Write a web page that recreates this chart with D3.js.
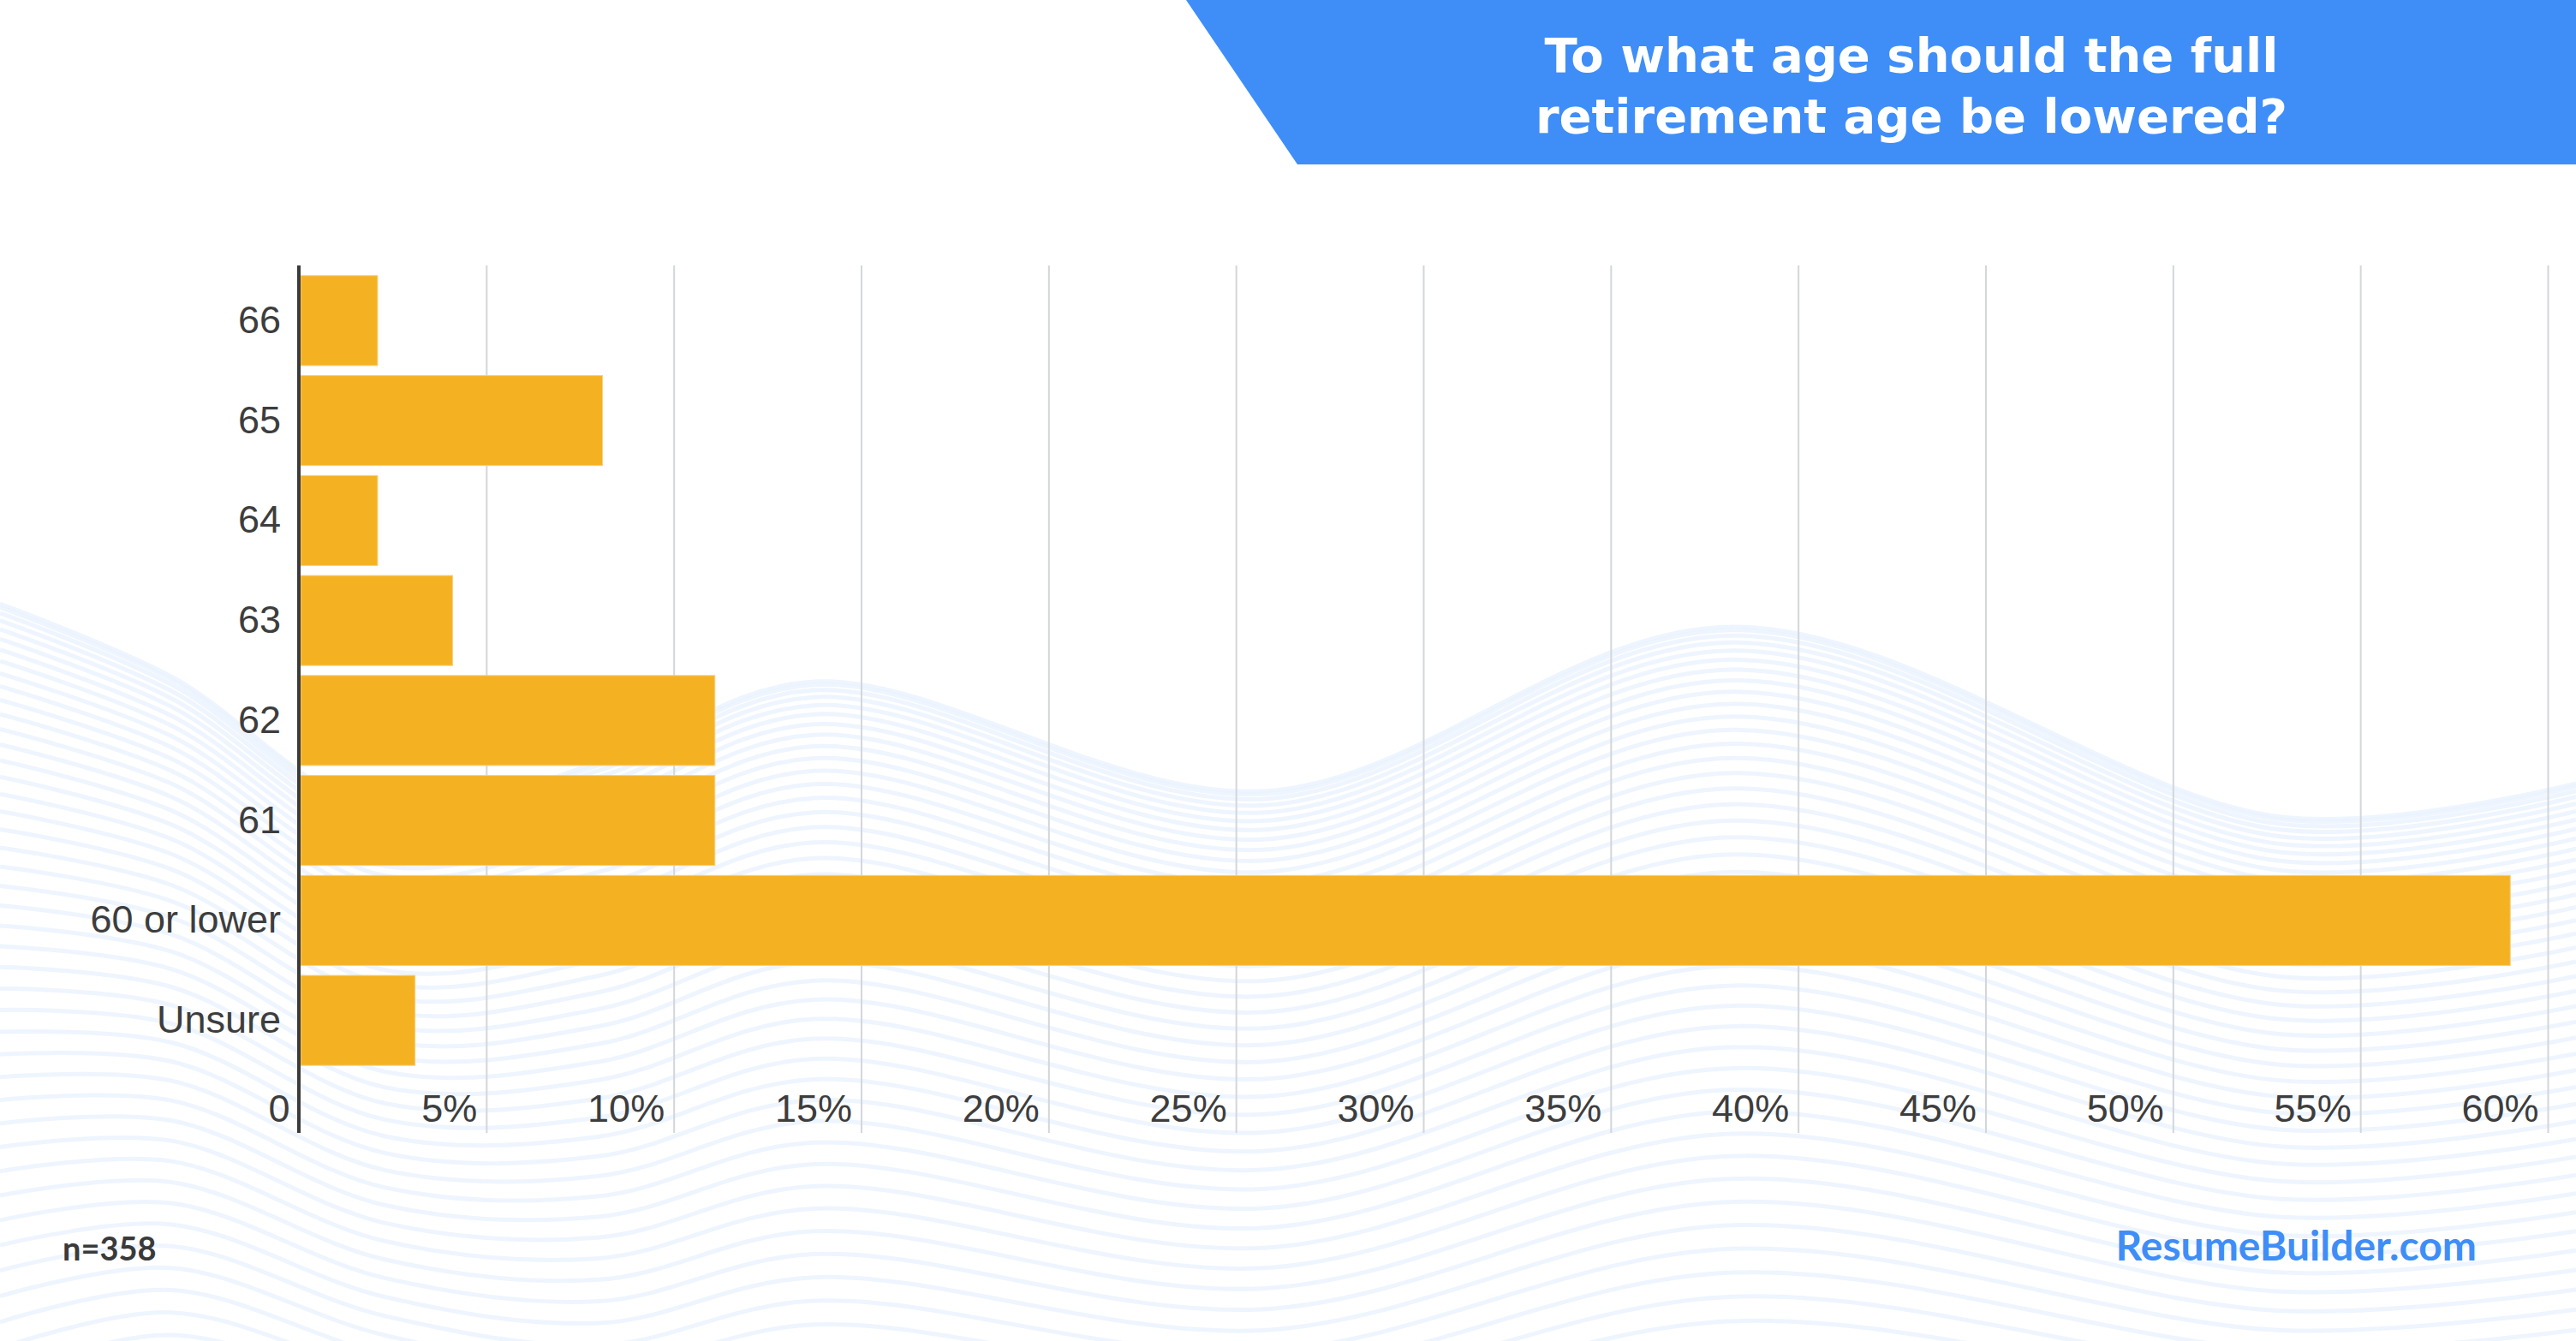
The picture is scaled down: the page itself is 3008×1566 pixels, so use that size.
<!DOCTYPE html>
<html>
<head>
<meta charset="utf-8">
<script src="https://cdn.jsdelivr.net/npm/d3@7"></script>
<style>
  body { margin: 0; background: #fff; }
  svg { display: block; }
</style>
</head>
<body>
<svg id="chart"></svg>
<script>
// values (percent of respondents)
var categories = ["66", "65", "64", "63", "62", "61", "60 or lower", "Unsure"];
var values = [2.1, 8.1, 2.1, 4.1, 11.1, 11.1, 59.0, 3.1];
var xTicks = [0, 5, 10, 15, 20, 25, 30, 35, 40, 45, 50, 55, 60];
var titleLines = ["To what age should the full", "retirement age be lowered?"];
var sampleNote = "n=358";
var brand = "ResumeBuilder.com";

// background ribbon (decoration only): top edge and bottom edge
var waveX = [0, 200, 450, 700, 950, 1474, 2024, 2664, 3008];
var waveTopY = [705, 790, 950, 890, 796, 924, 732, 954, 915];
var waveBotY = [1700, 1640, 1700, 1760, 1720, 1760, 1660, 1720, 1700];

var W = 3008, H = 1566;
var plot = {left: 349, right: 2975, top: 310, bottom: 1323};

var svg = d3.select("#chart")
    .attr("width", W)
    .attr("height", H);

svg.append("rect")
    .attr("width", W)
    .attr("height", H)
    .attr("fill", "#ffffff");

// wavy lines: packed near the top edge, spreading out lower down
var waveLine = d3.line().curve(d3.curveCatmullRom.alpha(0.5));
var nLines = 46;
var waves = svg.append("g").attr("class", "waves");
for (var i = 0; i < nLines; i++) {
  var t = Math.pow(i / (nLines - 1), 1.45);
  var pts = waveX.map(function(px, j) {
    return [px, waveTopY[j] + (waveBotY[j] - waveTopY[j]) * t];
  });
  waves.append("path")
      .attr("d", waveLine(pts))
      .attr("fill", "none")
      .attr("stroke", "#e8f1fd")
      .attr("stroke-opacity", 0.75)
      .attr("stroke-width", 5);
}

// title banner
svg.append("polygon")
    .attr("points", [[1385, 0], [W, 0], [W, 192], [1515, 192]].join(" "))
    .attr("fill", "#3f8ef7");

svg.append("g")
    .selectAll("text")
    .data(titleLines)
    .enter()
    .append("text")
      .attr("x", 2232)
      .attr("y", function(d, i) { return 84 + i * 71; })
      .attr("text-anchor", "middle")
      .attr("fill", "#ffffff")
      .style("font-family", "'DejaVu Sans', sans-serif")
      .style("font-weight", 700)
      .style("font-size", "56px")
      .text(function(d) { return d; });

var x = d3.scaleLinear()
    .domain([0, 60])
    .range([plot.left, plot.right]);

var y = d3.scaleBand()
    .domain(categories)
    .range([316, 1250])
    .paddingInner(0.1)
    .paddingOuter(0.05);

// grid + tick labels
var xAxis = svg.append("g")
    .attr("transform", "translate(0," + plot.bottom + ")")
    .call(d3.axisBottom(x)
        .tickValues(xTicks)
        .tickSize(-(plot.bottom - plot.top))
        .tickFormat(function(d) { return d === 0 ? "0" : d + "%"; }));

xAxis.select(".domain").remove();
xAxis.selectAll(".tick line")
    .attr("stroke", "#d3d6da")
    .attr("stroke-width", 2)
    .attr("opacity", function(d) { return d === 0 ? 0 : 1; });
xAxis.selectAll(".tick text")
    .attr("x", -11)
    .attr("y", -13)
    .attr("dy", null)
    .attr("text-anchor", "end")
    .attr("fill", "#3d3d3d")
    .style("font-family", "'Liberation Sans', Arial, sans-serif")
    .style("font-size", "45px");

// bars
svg.append("g")
    .selectAll("rect")
    .data(values)
    .enter()
    .append("rect")
      .attr("x", x(0) + 2)
      .attr("y", function(d, i) { return y(categories[i]); })
      .attr("width", function(d) { return x(d) - x(0) - 2; })
      .attr("height", y.bandwidth())
      .attr("fill", "#f4b223")
      .attr("stroke", "#f7cf7a")
      .attr("stroke-width", 1);

// category axis
var yAxis = svg.append("g")
    .attr("transform", "translate(" + plot.left + ",0)")
    .call(d3.axisLeft(y).tickSize(0).tickPadding(21));

yAxis.select(".domain").remove();
yAxis.selectAll(".tick text")
    .attr("fill", "#3d3d3d")
    .style("font-family", "'Liberation Sans', Arial, sans-serif")
    .style("font-size", "45px");

svg.append("line")
    .attr("x1", plot.left)
    .attr("x2", plot.left)
    .attr("y1", plot.top)
    .attr("y2", plot.bottom)
    .attr("stroke", "#3b3b3b")
    .attr("stroke-width", 4);

// footer
svg.append("text")
    .attr("x", 73)
    .attr("y", 1472)
    .attr("fill", "#3a3a3a")
    .style("font-family", "Lato, sans-serif")
    .style("font-weight", 700)
    .style("font-size", "38px")
    .text(sampleNote);

svg.append("text")
    .attr("x", 2892)
    .attr("y", 1472)
    .attr("text-anchor", "end")
    .attr("fill", "#3f8ef7")
    .style("font-family", "Lato, sans-serif")
    .style("font-weight", 700)
    .style("font-size", "48px")
    .text(brand);
</script>
</body>
</html>
